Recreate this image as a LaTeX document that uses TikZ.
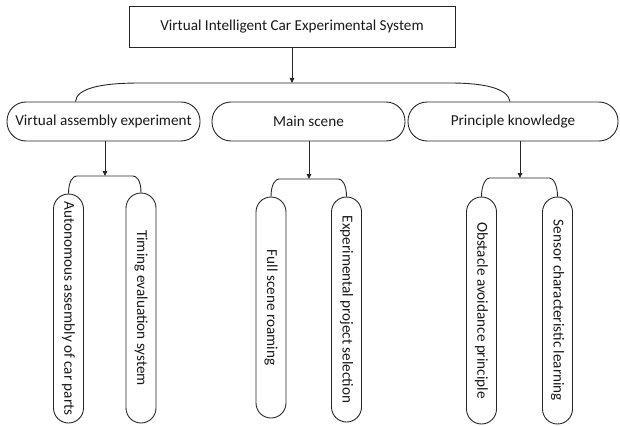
\documentclass[tikz,border=0pt]{standalone}
\usepackage{fontspec}
\setmainfont{Carlito}
\usetikzlibrary{arrows.meta}
\begin{document}
\begin{tikzpicture}[x=1pt,y=-1pt,
  every node/.style={font=\fontsize{15.2}{18}\selectfont, inner sep=0pt, text=black!90},
  line/.style={draw=black!85, line width=0.9pt},
  topbox/.style={line, rectangle, minimum width=326pt, minimum height=41pt},
  midbox/.style={line, rectangle, rounded corners=19pt, minimum height=39pt},
  leafbox/.style={line, rectangle, rounded corners=15pt, minimum width=30pt},
  arr/.style={line, -{Triangle[length=5pt,width=4.5pt]}},
  brace/.style={line}]
\useasboundingbox (0,0) rectangle (620,425);

\node[topbox] (top) at (292,26.5) {Virtual Intelligent Car Experimental System};

\node[midbox, minimum width=193pt] (n1) at (103.5,121.5) {Virtual assembly experiment};
\node[midbox, minimum width=193pt] (n2) at (308.5,121.5) {Main scene};
\node[midbox, minimum width=210pt] (n3) at (513,121.5) {Principle knowledge};

\node[leafbox, minimum height=229pt] (l1) at (68.5,308.5) {\rotatebox{-90}{Autonomous assembly of car parts}};
\node[leafbox, minimum height=230pt] (l2) at (141,308) {\rotatebox{-90}{Timing evaluation system}};
\node[leafbox, minimum height=221pt] (l3) at (271,307.5) {\rotatebox{-90}{Full scene roaming}};
\node[leafbox, minimum height=225pt] (l4) at (346.5,309.5) {\rotatebox{-90}{Experimental project selection}};
\node[leafbox, minimum height=227pt] (l5) at (481.5,310.5) {\rotatebox{-90}{Obstacle avoidance principle}};
\node[leafbox, minimum height=227pt] (l6) at (557.5,310.5) {\rotatebox{-90}{Sensor characteristic learning}};

% level 1 brace
\coordinate (b0) at (top.south |- 0,83);
\draw[arr] (top.south) -- (b0);
\draw[brace] ([xshift=-28pt]n1.north) .. controls +(1,-13) and +(-40,0) .. (140,83)
  -- (450,83) .. controls +(35,0) and +(-2,-13) .. ([xshift=-3pt]n3.north);

% level 2 braces
\coordinate (b1) at (105,176);
\coordinate (b2) at (309,179);
\coordinate (b3) at (520,178);
\draw[arr] (n1.south -| b1) -- (b1);
\draw[arr] (n2.south -| b2) -- (b2);
\draw[arr] (n3.south -| b3) -- (b3);

\draw[brace] (l1.north) .. controls +(0,-13) and +(-3,0) .. ([xshift=8pt]l1.north |- b1)
  -- ([xshift=-8pt]l2.north |- b1) .. controls +(3,0) and +(0,-13) .. (l2.north);
\draw[brace] (l3.north) .. controls +(0,-13) and +(-3,0) .. ([xshift=8pt]l3.north |- b2)
  -- ([xshift=-8pt]l4.north |- b2) .. controls +(3,0) and +(0,-13) .. (l4.north);
\draw[brace] (l5.north) .. controls +(0,-13) and +(-3,0) .. ([xshift=8pt]l5.north |- b3)
  -- ([xshift=-8pt]l6.north |- b3) .. controls +(3,0) and +(0,-13) .. (l6.north);
\end{tikzpicture}
\end{document}
